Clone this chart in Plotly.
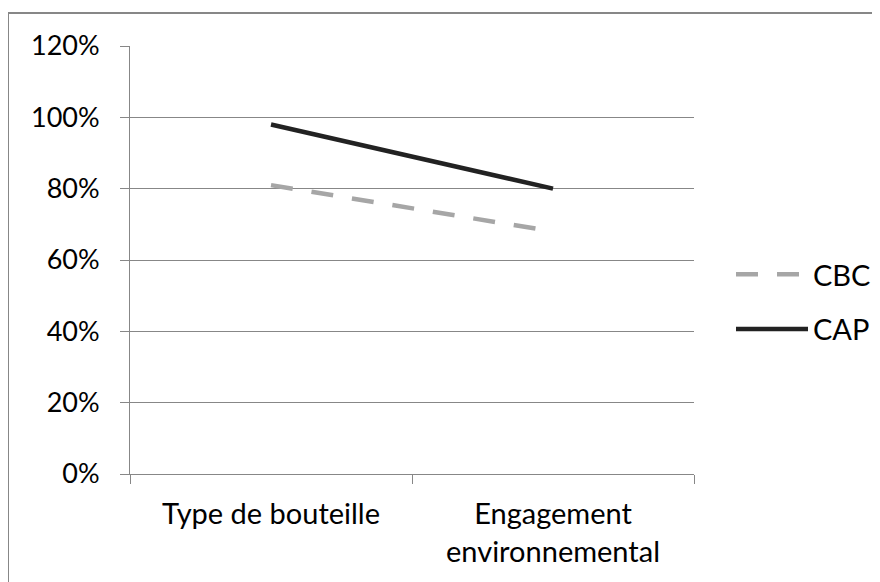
import plotly.graph_objects as go

categories = ["Type de bouteille", "Engagement<br>environnemental"]
cbc = [0.81, 0.68]
cap = [0.98, 0.80]
y_ticks = [0, 0.2, 0.4, 0.6, 0.8, 1.0, 1.2]

W, H = 880, 582
L, R, T, B = 122, 194, 38, 116
pw, ph = W - L - R, H - T - B

FONT = "Lato"
GRID = "#878787"
FS = 29

fig = go.Figure()
fig.add_trace(go.Scatter(x=categories, y=cbc, mode="lines", name="CBC", legendgroup="a",
                         line=dict(color="#A6A6A6", width=4.5, dash="22px,19px")))
fig.add_trace(go.Scatter(x=categories, y=cap, mode="lines", name="CAP", legendgroup="b",
                         line=dict(color="#222222", width=4.5)))

fig.update_layout(
    width=W, height=H,
    margin=dict(l=L, r=R, t=T, b=B),
    paper_bgcolor="white", plot_bgcolor="white",
    font=dict(family=FONT, size=FS, color="black"),
    showlegend=True,
    legend=dict(x=(723 - L) / pw, y=1 - (241 - T) / ph, xanchor="left", yanchor="top",
                bgcolor="rgba(0,0,0,0)", font=dict(size=FS), itemwidth=72,
                tracegroupgap=14, traceorder="grouped"),
    xaxis=dict(type="category", showgrid=False, showline=True, linecolor=GRID,
               linewidth=1, ticks="outside", tickson="boundaries", ticklen=9,
               tickcolor=GRID, range=[-0.5, 1.5], tickfont=dict(size=FS),
               ticklabelstandoff=14),
    yaxis=dict(range=[0, 1.2], tickvals=y_ticks, tickformat=".0%",
               showgrid=True, gridcolor=GRID, gridwidth=1, showline=True,
               linecolor=GRID, ticks="outside", ticklen=9, tickcolor=GRID,
               zeroline=False, tickfont=dict(size=FS - 2), ticklabelstandoff=15),
    shapes=[dict(type="rect", xref="paper", yref="paper",
                 x0=(0 - L) / pw, x1=(900 - L) / pw,
                 y0=1 - (600 - T) / ph, y1=1 - (5 - T) / ph,
                 line=dict(color=GRID, width=2), fillcolor="rgba(0,0,0,0)", layer="below")],
)

fig.write_html("out.html")
